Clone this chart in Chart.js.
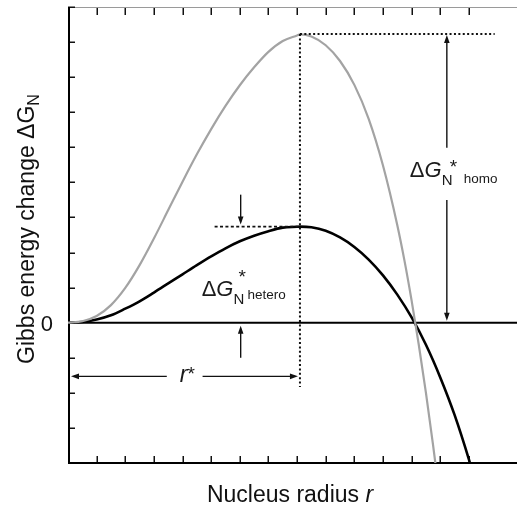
<!DOCTYPE html>
<html><head><meta charset="utf-8">
<script src="https://cdn.jsdelivr.net/npm/chart.js@4.4.0/dist/chart.umd.min.js"></script>
<style>html,body{margin:0;padding:0;background:#fff;}#wrap{width:517px;height:510px;}</style>
</head><body><div id="wrap"><canvas id="c" width="517" height="510"></canvas></div>
<script>
// ---- data (x: nucleus radius, arbitrary units; y: Gibbs energy change, arbitrary units)
const radiusHomo = [0,0.5,1,1.5,2,2.5,3,3.5,4,4.5,5,5.5,6,6.5,7,7.5,8,8.1,8.5,9,9.5,10,10.5,11,11.5,11.75,12,12.25,12.5,12.75,12.9];
const gibbsHomo  = [0,0.04,0.19,0.5,0.99,1.64,2.4,3.21,4.02,4.8,5.52,6.18,6.77,7.28,7.72,8.03,8.19,8.22,8.16,7.91,7.46,6.78,5.81,4.48,2.78,1.77,0.63,-0.63,-2.0,-3.5,-4.45];
const radiusHetero = [0,0.5,1,1.5,2,2.5,3,3.5,4,4.5,5,5.5,6,6.5,7,7.5,8,8.1,8.5,9,9.5,10,10.5,11,11.5,12,12.5,13,13.5,14,14.1];
const gibbsHetero  = [0,0.02,0.09,0.21,0.4,0.61,0.86,1.12,1.38,1.64,1.89,2.12,2.32,2.48,2.61,2.71,2.735,2.74,2.72,2.62,2.43,2.16,1.8,1.35,0.8,0.15,-0.63,-1.56,-2.63,-3.9,-4.19];
const xTicks = [0,1,2,3,4,5,6,7,8,9,10,11,12,13,14,15];
const yTicks = [-4,-3,-2,-1,0,1,2,3,4,5,6,7,8,9];
const zeroLabel = '0';
const xTitle = ['Nucleus radius ', 'r'];
const yTitle = ['Gibbs energy change ΔG', 'N'];

// ---- annotation anchors (data units)
const rStar = 8.1, peakHomo = 8.23, peakHetero = 2.74;
const homoArrowR = 13.23, homoDotEndR = 14.9, homoGapTop = 4.99, homoGapBottom = 3.5;
const heteroArrowR = 6.03, heteroDashStartR = 5.12, heteroArrowTop = 3.65, heteroLowArrowBottom = -1.0;
const rStarArrowV = -1.53, rStarDotEndV = -1.83, rStarGapL = 3.45, rStarGapR = 4.7;

const FONT = '"Liberation Sans", Arial, Helvetica, sans-serif';

function arrowHead(ctx, x, y, dir) { // tip at x,y
  const L = 8, W = 2.8;
  ctx.beginPath();
  if (dir === 'up') { ctx.moveTo(x, y); ctx.lineTo(x - W, y + L); ctx.lineTo(x + W, y + L); }
  if (dir === 'down') { ctx.moveTo(x, y); ctx.lineTo(x - W, y - L); ctx.lineTo(x + W, y - L); }
  if (dir === 'left') { ctx.moveTo(x, y); ctx.lineTo(x + L, y - W); ctx.lineTo(x + L, y + W); }
  if (dir === 'right') { ctx.moveTo(x, y); ctx.lineTo(x - L, y - W); ctx.lineTo(x - L, y + W); }
  ctx.closePath(); ctx.fill();
}
function line(ctx, x1, y1, x2, y2) { ctx.beginPath(); ctx.moveTo(x1, y1); ctx.lineTo(x2, y2); ctx.stroke(); }

const framePlugin = {
  id: 'frame',
  beforeDatasetsDraw(chart) {
    const { ctx, chartArea: a, scales: { x, y } } = chart;
    ctx.save();
    ctx.strokeStyle = '#9a9a9a'; ctx.lineWidth = 1;
    line(ctx, a.left, a.top + 0.5, a.right, a.top + 0.5);
    ctx.strokeStyle = '#111'; ctx.lineWidth = 1.5;
    x.ticks.forEach(t => {
      if (!xTicks.includes(t.value) || t.value === 0) return;
      const px = Math.round(x.getPixelForValue(t.value)) + 0.25;
      line(ctx, px, a.top + 1, px, a.top + 8);
      line(ctx, px, a.bottom, px, a.bottom - 7);
    });
    y.ticks.forEach(t => {
      if (!yTicks.includes(t.value)) return;
      const py = Math.round(y.getPixelForValue(t.value)) + 0.25;
      line(ctx, a.left, py, a.left + 7, py);
    });
    ctx.strokeStyle = '#000'; ctx.lineWidth = 2;
    line(ctx, a.left + 1, a.top, a.left + 1, a.bottom + 1);
    line(ctx, a.left, a.bottom, a.right, a.bottom);
    const y0 = y.getPixelForValue(0);
    line(ctx, a.left, y0, a.right, y0);
    ctx.fillStyle = '#111';
    ctx.font = '22px ' + FONT; ctx.textAlign = 'right'; ctx.textBaseline = 'middle';
    ctx.fillText(zeroLabel, a.left - 15, y0 + 2);
    ctx.textBaseline = 'alphabetic'; ctx.textAlign = 'left';
    ctx.font = '23px ' + FONT; const w1 = ctx.measureText(xTitle[0]).width;
    ctx.font = 'italic 23px ' + FONT; const w2 = ctx.measureText(xTitle[1]).width;
    const xs = 290 - (w1 + w2) / 2;
    ctx.font = '23px ' + FONT; ctx.fillText(xTitle[0], xs, 502);
    ctx.font = 'italic 23px ' + FONT; ctx.fillText(xTitle[1], xs + w1, 502);
    ctx.save();
    ctx.translate(34, 229); ctx.rotate(-Math.PI / 2);
    ctx.font = '23px ' + FONT; const v1 = ctx.measureText(yTitle[0]).width;
    ctx.font = '16px ' + FONT; const v2 = ctx.measureText(yTitle[1]).width;
    const ys = -(v1 + v2) / 2;
    ctx.font = '23px ' + FONT; ctx.fillText(yTitle[0], ys, 0);
    ctx.font = '16px ' + FONT; ctx.fillText(yTitle[1], ys + v1, 5);
    ctx.restore();
    ctx.restore();
  },
  afterDatasetsDraw(chart) {
    const { ctx, chartArea: a, scales: { x, y } } = chart;
    const X = v => x.getPixelForValue(v), Y = v => y.getPixelForValue(v);
    ctx.save();
    ctx.strokeStyle = '#111'; ctx.fillStyle = '#111';
    ctx.lineWidth = 2; ctx.setLineDash([2, 2.4]);
    line(ctx, X(rStar), Y(peakHomo), X(rStar), Y(rStarDotEndV));
    line(ctx, X(rStar), Y(peakHomo), X(homoDotEndR), Y(peakHomo));
    ctx.lineWidth = 1.6; ctx.setLineDash([3, 2.4]);
    line(ctx, X(heteroDashStartR), Y(peakHetero), X(rStar), Y(peakHetero));
    ctx.setLineDash([]);
    ctx.lineWidth = 1.4;
    const hx = X(homoArrowR);
    line(ctx, hx, Y(peakHomo) + 4, hx, Y(homoGapTop));
    line(ctx, hx, Y(homoGapBottom), hx, Y(0) - 5);
    arrowHead(ctx, hx, Y(peakHomo) + 1, 'up');
    arrowHead(ctx, hx, Y(0) - 2, 'down');
    const ex = X(heteroArrowR);
    line(ctx, ex, Y(heteroArrowTop), ex, Y(peakHetero) - 5);
    arrowHead(ctx, ex, Y(peakHetero) - 2, 'down');
    line(ctx, ex, Y(heteroLowArrowBottom), ex, Y(0) + 6);
    arrowHead(ctx, ex, Y(0) + 3, 'up');
    const ry = Y(rStarArrowV);
    line(ctx, a.left + 6, ry, X(rStarGapL), ry);
    arrowHead(ctx, a.left + 3, ry, 'left');
    line(ctx, X(rStarGapR), ry, X(rStar) - 5, ry);
    arrowHead(ctx, X(rStar) - 2, ry, 'right');
    ctx.fillStyle = '#1a1a1a'; ctx.textAlign = 'left'; ctx.textBaseline = 'alphabetic';
    function dgLabel(x0, base, sub, starDx, starBase, subDx, subBase) {
      ctx.font = '22px ' + FONT; ctx.fillText('Δ', x0, base);
      const wd = ctx.measureText('Δ').width;
      ctx.font = 'italic 22px ' + FONT; ctx.fillText('G', x0 + wd, base);
      const xN = x0 + wd + ctx.measureText('G').width;
      ctx.font = '15px ' + FONT; ctx.fillText('N', xN, base + 8);
      ctx.font = '19px ' + FONT; ctx.fillText('*', xN + starDx, starBase);
      ctx.font = '13.5px ' + FONT; ctx.fillText(sub, xN + subDx, subBase);
    }
    dgLabel(X(homoArrowR) - 37, Y(peakHomo) + 143, 'homo', 8, Y(peakHomo) + 139, 22, Y(peakHomo) + 149);
    dgLabel(X(heteroArrowR) - 39, Y(peakHetero) + 69, 'hetero', 5, Y(peakHetero) + 56, 14, Y(peakHetero) + 72);
    ctx.font = 'italic 23px ' + FONT; ctx.fillText('r', X(rStarGapL) + 13, ry + 6);
    const wr = ctx.measureText('r').width;
    ctx.font = '19px ' + FONT; ctx.fillText('*', X(rStarGapL) + 13 + wr, ry + 4);
    ctx.restore();
  }
};

const toPts = (xs, ys) => xs.map((v, i) => ({ x: v, y: ys[i] }));

new Chart(document.getElementById('c'), {
  type: 'line',
  data: {
    datasets: [
      { label: 'homogeneous', data: toPts(radiusHomo, gibbsHomo), borderColor: '#a3a3a3', borderWidth: 2.2,
        pointRadius: 0, cubicInterpolationMode: 'monotone', fill: false },
      { label: 'heterogeneous', data: toPts(radiusHetero, gibbsHetero), borderColor: '#000', borderWidth: 2.6,
        pointRadius: 0, cubicInterpolationMode: 'monotone', fill: false }
    ]
  },
  options: {
    responsive: false, animation: false, devicePixelRatio: 1,
    layout: { padding: { left: 68, right: 0, top: 7, bottom: 47 } },
    plugins: { legend: { display: false }, tooltip: { enabled: false } },
    scales: {
      x: { type: 'linear', min: 0, max: 15.68, display: false, ticks: { stepSize: 1 } },
      y: { type: 'linear', min: -4, max: 9, display: false, ticks: { stepSize: 1 } }
    }
  },
  plugins: [framePlugin]
});
</script></body></html>
